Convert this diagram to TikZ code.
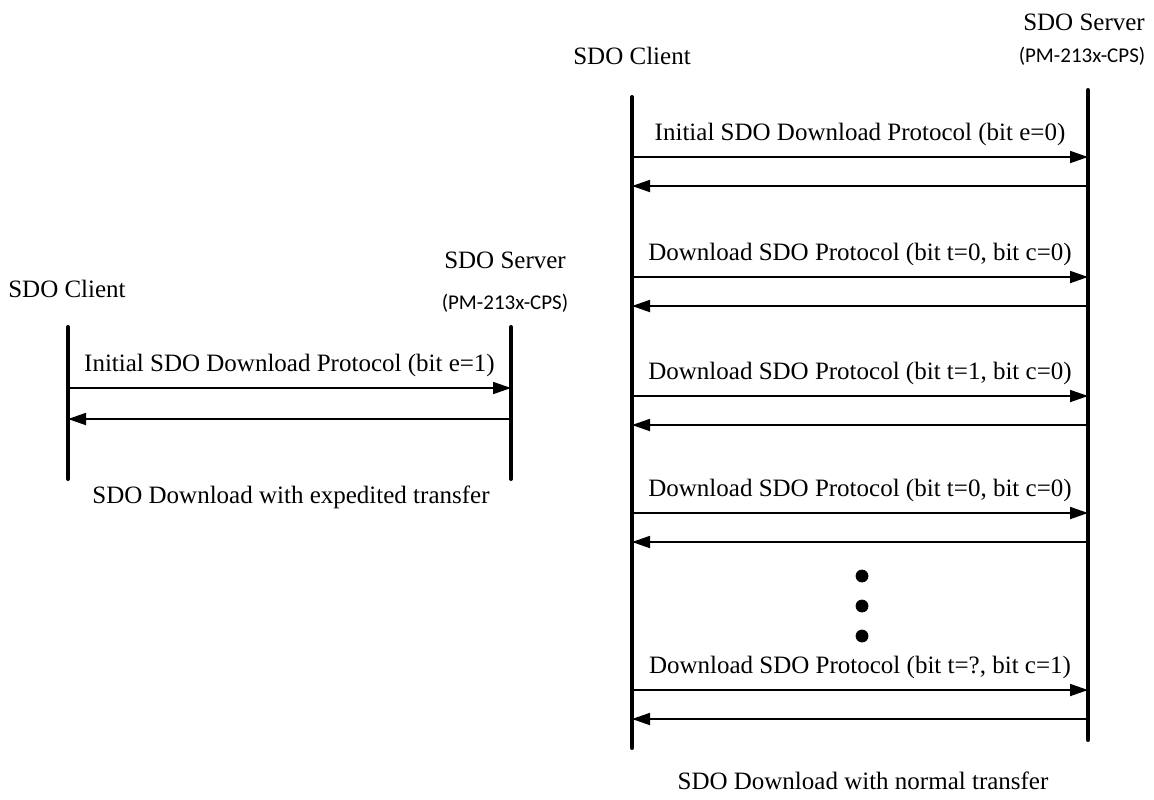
\documentclass[tikz,border=0pt]{standalone}
\usepackage{fontspec}
\setmainfont{Liberation Serif}
\newfontfamily\devfont{Carlito}
\usetikzlibrary{arrows.meta}

\begin{document}
\begin{tikzpicture}[x=0.5pt, y=-0.5pt,
		lifeline/.style={line width=2pt, line cap=round},
		msg/.style={line width=0.9pt, -{Triangle[length=9pt,width=6pt]}},
		msglbl/.style={midway, above=5pt, inner sep=0pt, font=\fontsize{12.5}{14}\selectfont},
		txt/.style={inner sep=0pt, font=\fontsize{12.5}{14}\selectfont},
		devtxt/.style={inner sep=0pt, font=\devfont\fontsize{10.5}{12}\selectfont}]
		%%%%% START %%%%%
		\useasboundingbox (0, 0) rectangle (1154, 799);
		
		% expedited transfer
		\node[txt] (clientA) at (67, 289) {SDO Client};
		\node[txt] (serverA) at (505, 260) {SDO Server};
		\node[devtxt] (devA) at (505, 303) {(PM-213x-CPS)};
		
		\coordinate (clientAtop) at (68, 327);
		\coordinate (clientAbot) at (68, 479);
		\coordinate (serverAtop) at (511, 327);
		\coordinate (serverAbot) at (511, 479);
		\draw[lifeline] (clientAtop) -- (clientAbot);
		\draw[lifeline] (serverAtop) -- (serverAbot);
		
		\coordinate (ca1) at (68, 388);
		\coordinate (sa1) at (511, 388);
		\coordinate (ca2) at (68, 419);
		\coordinate (sa2) at (511, 419);
		\draw[msg] (ca1) -- (sa1) node[msglbl] {Initial SDO Download Protocol (bit e=1)};
		\draw[msg] (sa2) -- (ca2);
		
		\node[txt] (captionA) at (291, 497) {SDO Download with expedited transfer};
		
		% normal transfer
		\node[txt] (clientB) at (632, 56) {SDO Client};
		\node[txt] (serverB) at (1084, 22) {SDO Server};
		\node[devtxt] (devB) at (1082, 56) {(PM-213x-CPS)};
		
		\coordinate (clientBtop) at (632, 97);
		\coordinate (clientBbot) at (632, 748);
		\coordinate (serverBtop) at (1088, 90);
		\coordinate (serverBbot) at (1088, 740);
		\draw[lifeline] (clientBtop) -- (clientBbot);
		\draw[lifeline] (serverBtop) -- (serverBbot);
		
		\foreach \y/\back/\lbl [count=\i] in {
				157/186/{Initial SDO Download Protocol (bit e=0)},
				277/306/{Download SDO Protocol (bit t=0, bit c=0)},
				396/425/{Download SDO Protocol (bit t=1, bit c=0)},
				513/542/{Download SDO Protocol (bit t=0, bit c=0)},
				690/719/{Download SDO Protocol (bit t=?, bit c=1)}} {
			\coordinate (cb\i) at (632, \y);
			\coordinate (sb\i) at (1088, \y);
			\coordinate (cr\i) at (632, \back);
			\coordinate (sr\i) at (1088, \back);
			\draw[msg] (cb\i) -- (sb\i) node[msglbl] {\lbl};
			\draw[msg] (sr\i) -- (cr\i);
		}
		
		\foreach \y in {576, 606, 636}
			\draw[fill=black] (862, \y) circle (3pt);
		
		\node[txt] (captionB) at (863, 781) {SDO Download with normal transfer};
		
		%%%%% END %%%%%
	\end{tikzpicture}
\end{document}
